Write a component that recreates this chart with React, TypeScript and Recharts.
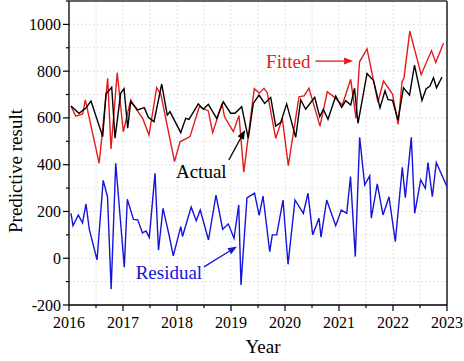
import React from 'react';
import {
  LineChart,
  Line,
  XAxis,
  YAxis,
  CartesianGrid,
  ReferenceLine,
  ReferenceDot,
} from 'recharts';

// decimal-year time stamps and values
const actualT = [
  2016.037, 2016.185, 2016.309, 2016.407, 2016.624, 2016.685, 2016.791, 2016.852, 2016.957, 2017.019,
  2017.087, 2017.143, 2017.272, 2017.394, 2017.469, 2017.574, 2017.717, 2017.82, 2017.87, 2018.069,
  2018.161, 2018.222, 2018.394, 2018.487, 2018.58, 2018.735, 2018.857, 2018.994, 2019.074, 2019.198,
  2019.32, 2019.413, 2019.519, 2019.624, 2019.735, 2019.828, 2019.92, 2020.031, 2020.198, 2020.291,
  2020.383, 2020.55, 2020.643, 2020.709, 2020.796, 2020.939, 2021.05, 2021.124, 2021.217, 2021.287,
  2021.352, 2021.519, 2021.639, 2021.759, 2021.852, 2021.907, 2021.991, 2022.093, 2022.194, 2022.306,
  2022.398, 2022.537, 2022.611, 2022.685, 2022.75, 2022.806, 2022.907,
];
const actualV = [
  651, 620, 641, 672, 520, 702, 731, 513, 705, 725,
  556, 669, 634, 644, 603, 584, 745, 612, 627, 537,
  598, 594, 660, 637, 658, 598, 669, 620, 620, 648,
  513, 662, 698, 662, 688, 565, 580, 660, 517, 677,
  637, 688, 605, 637, 594, 694, 645, 674, 655, 727,
  577, 790, 760, 643, 716, 678, 675, 591, 729, 698,
  826, 675, 724, 736, 772, 729, 775,
];

const fittedT = [
  2016.037, 2016.124, 2016.254, 2016.302, 2016.559, 2016.717, 2016.778, 2016.893, 2017.006, 2017.143,
  2017.254, 2017.365, 2017.481, 2017.624, 2017.704, 2017.954, 2018.056, 2018.241, 2018.413, 2018.58,
  2018.661, 2018.833, 2018.88, 2019.043, 2019.148, 2019.237, 2019.431, 2019.524, 2019.611, 2019.672,
  2019.828, 2019.95, 2020.061, 2020.259, 2020.352, 2020.444, 2020.648, 2020.783, 2020.907, 2021.061,
  2021.135, 2021.217, 2021.315, 2021.38, 2021.519, 2021.722, 2021.824, 2021.991, 2022.096, 2022.167,
  2022.204, 2022.311, 2022.522, 2022.713, 2022.791, 2022.935,
];
const fittedV = [
  651, 608, 617, 677, 406, 769, 467, 793, 541, 677,
  634, 598, 527, 729, 698, 413, 498, 520, 648, 630,
  537, 661, 605, 541, 610, 368, 725, 706, 727, 708,
  513, 598, 396, 690, 694, 727, 565, 712, 690, 655,
  708, 765, 598, 840, 895, 668, 758, 702, 572, 755,
  772, 971, 785, 888, 837, 919,
];

const residualT = [
  2016.037, 2016.074, 2016.172, 2016.25, 2016.315, 2016.376, 2016.519, 2016.633, 2016.713, 2016.781,
  2016.865, 2017.024, 2017.08, 2017.194, 2017.272, 2017.361, 2017.426, 2017.487, 2017.593, 2017.657,
  2017.741, 2017.857, 2017.931, 2018.07, 2018.102, 2018.263, 2018.356, 2018.431, 2018.583, 2018.722,
  2018.846, 2018.95, 2019.056, 2019.143, 2019.185, 2019.296, 2019.435, 2019.522, 2019.593, 2019.717,
  2019.765, 2019.846, 2019.963, 2020.056, 2020.185, 2020.339, 2020.426, 2020.513, 2020.63, 2020.667,
  2020.772, 2020.939, 2021.043, 2021.143, 2021.213, 2021.302, 2021.383, 2021.476, 2021.569, 2021.598,
  2021.709, 2021.815, 2021.926, 2022.043, 2022.172, 2022.228, 2022.339, 2022.402, 2022.513, 2022.598,
  2022.648, 2022.728, 2022.802, 2023.0,
];
const residualV = [
  192, 139, 185, 151, 232, 123, -7, 333, 263, -132,
  406, -38, 252, 166, 164, 108, 117, 89, 363, 34,
  213, 95, 10, 135, 93, 219, 160, 206, 78, 270,
  124, 147, 85, 228, -114, 258, 278, 183, 266, 28,
  100, 100, 249, -26, 249, 192, 278, 100, 171, 90,
  249, 139, 206, 192, 349, 7, 517, 313, 352, 171,
  318, 185, 263, 71, 389, 259, 517, 192, 335, 299,
  409, 263, 409, 306,
];

const yTicks = [-200, -100, 0, 100, 200, 300, 400, 500, 600, 700, 800, 900, 1000, 1100];
const xTicks = [2016, 2016.5, 2017, 2017.5, 2018, 2018.5, 2019, 2019.5, 2020, 2020.5, 2021, 2021.5, 2022, 2022.5, 2023];

const zip = (t: number[], v: number[]) => t.map((x, i) => ({ t: x, v: v[i] }));
const actual = zip(actualT, actualV);
const fitted = zip(fittedT, fittedV);
const residual = zip(residualT, residualV);

const RED = '#e31b1b';
const BLUE = '#1414dc';
const FONT = '"Liberation Serif", "Times New Roman", serif';

const YTick = (props: any) => {
  const { x, y, payload } = props;
  const v = payload.value;
  const major = v % 200 === 0;
  return (
    <g>
      <line x1={x - (major ? 6 : 3)} x2={x} y1={y} y2={y} stroke="#000" strokeWidth={1.2} />
      {major && v <= 1000 && (
        <text x={x - 8} y={y} textAnchor="end" dominantBaseline="central" fontSize={16} fontFamily={FONT} fill="#000">
          {v}
        </text>
      )}
    </g>
  );
};

const XTick = (props: any) => {
  const { x, y, payload } = props;
  const v = payload.value;
  const major = Number.isInteger(v);
  return (
    <g>
      <line x1={x} x2={x} y1={y} y2={y + (major ? 6 : 3)} stroke="#000" strokeWidth={1.2} />
      {major && (
        <text x={x} y={y + 23} textAnchor="middle" fontSize={16} fontFamily={FONT} fill="#000">
          {v}
        </text>
      )}
    </g>
  );
};

const Arrow = (color: string) => (p: any) => {
  const { x1, y1, x2, y2 } = p;
  const a = Math.atan2(y2 - y1, x2 - x1);
  const L = 9;
  const W = 3.5;
  const bx = x2 - L * Math.cos(a);
  const by = y2 - L * Math.sin(a);
  const px = -Math.sin(a) * W;
  const py = Math.cos(a) * W;
  return (
    <g>
      <line x1={x1} y1={y1} x2={bx} y2={by} stroke={color} strokeWidth={1.3} />
      <polygon points={`${x2},${y2} ${bx + px},${by + py} ${bx - px},${by - py}`} fill={color} />
    </g>
  );
};

const Note = (text: string, color: string) => (p: any) => (
  <text x={p.cx} y={p.cy} textAnchor="middle" dominantBaseline="central" fontSize={19} fontFamily={FONT} fill={color}>
    {text}
  </text>
);

export default function App() {
  return (
    <div style={{ position: 'absolute', left: 0, top: 0, width: 464, height: 361, background: '#fff' }}>
      <LineChart width={464} height={361} margin={{ top: 1, right: 17, left: 0, bottom: 0 }}>
        <CartesianGrid stroke="#e0e0e0" strokeDasharray="2 2" />
        <XAxis
          dataKey="t"
          type="number"
          domain={[2016, 2023]}
          ticks={xTicks}
          interval={0}
          allowDataOverflow
          height={56}
          tickSize={0}
          tickMargin={0}
          tick={<XTick />}
          stroke="#000"
          strokeWidth={1.3}
          label={{
            content: ({ viewBox }: any) => (
              <text x={viewBox.x + viewBox.width / 2 + 5} y={viewBox.y + 48} textAnchor="middle" fontSize={19} fontFamily={FONT} fill="#000">
                Year
              </text>
            ),
          }}
        />
        <YAxis
          dataKey="v"
          type="number"
          domain={[-200, 1100]}
          ticks={yTicks}
          interval={0}
          allowDataOverflow
          width={69}
          tickSize={0}
          tickMargin={0}
          tick={<YTick />}
          stroke="#000"
          strokeWidth={1.3}
          label={{
            content: ({ viewBox }: any) => {
              const cx = 15;
              const cy = viewBox.y + viewBox.height / 2 + 18;
              return (
                <text x={cx} y={cy} transform={`rotate(-90 ${cx} ${cy})`} textAnchor="middle" dominantBaseline="central" fontSize={19} fontFamily={FONT} fill="#000">
                  Predictive result
                </text>
              );
            },
          }}
        />
        <ReferenceLine y={1100} stroke="#333" strokeWidth={1.5} />
        <ReferenceLine x={2023} stroke="#555" strokeWidth={2} />
        <Line data={residual} dataKey="v" stroke={BLUE} strokeWidth={1.4} dot={false} isAnimationActive={false} />
        <Line data={fitted} dataKey="v" stroke={RED} strokeWidth={1.4} dot={false} isAnimationActive={false} />
        <Line data={actual} dataKey="v" stroke="#000" strokeWidth={1.4} dot={false} isAnimationActive={false} />
        <ReferenceDot x={2020.06} y={843} r={0} shape={Note('Fitted', RED)} ifOverflow="visible" />
        <ReferenceLine segment={[{ x: 2020.56, y: 843 }, { x: 2021.26, y: 843 }]} shape={Arrow(RED)} ifOverflow="visible" />
        <ReferenceDot x={2018.45} y={369} r={0} shape={Note('Actual', '#000')} ifOverflow="visible" />
        <ReferenceLine segment={[{ x: 2018.96, y: 420 }, { x: 2019.26, y: 548 }]} shape={Arrow('#000')} ifOverflow="visible" />
        <ReferenceDot x={2017.85} y={-59} r={0} shape={Note('Residual', BLUE)} ifOverflow="visible" />
        <ReferenceLine segment={[{ x: 2018.5, y: -37 }, { x: 2019.11, y: 50 }]} shape={Arrow(BLUE)} ifOverflow="visible" />
      </LineChart>
    </div>
  );
}
